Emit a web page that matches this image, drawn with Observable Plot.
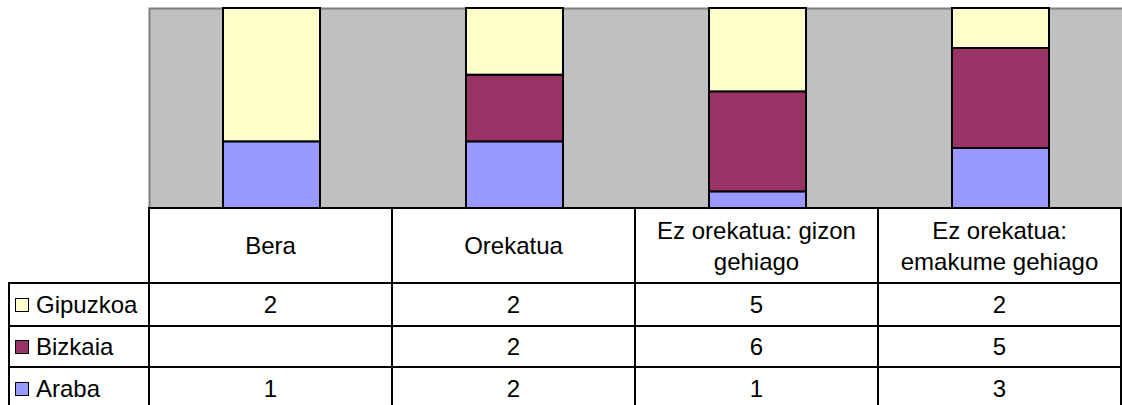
<!DOCTYPE html>
<html>
<head>
<meta charset="utf-8">
<script src="https://cdn.jsdelivr.net/npm/d3@7"></script>
<script src="https://cdn.jsdelivr.net/npm/@observablehq/plot@0.6"></script>
<style>
html, body { margin: 0; padding: 0; background: #fff; }
#wrap { position: relative; width: 1122px; height: 405px; overflow: hidden;
  font-family: "Liberation Sans", Arial, sans-serif; color: #000; }
#chart { position: absolute; left: 0; top: 0; width: 1124px; }
.cell { position: absolute; box-sizing: border-box; border: 2px solid #000;
  display: flex; align-items: center; justify-content: center; text-align: center;
  font-size: 24px; line-height: 31px; background: #fff; }
.leg { justify-content: flex-start; padding-left: 5px; }
.sw { width: 12px; height: 12px; border: 1px solid #000; margin-right: 7px; flex: none; }
</style>
</head>
<body>
<div id="wrap"><div id="chart"></div></div>
<script>
// ---- data ----
const categories = ["Bera", "Orekatua", "Ez orekatua: gizon gehiago", "Ez orekatua: emakume gehiago"];
const categoryLabels = [["Bera"], ["Orekatua"], ["Ez orekatua: gizon", "gehiago"], ["Ez orekatua:", "emakume gehiago"]];
const seriesNames = ["Gipuzkoa", "Bizkaia", "Araba"];   // table order (top to bottom)
const gipuzkoa = [2, 2, 5, 2];
const bizkaia = [null, 2, 6, 5];
const araba = [1, 2, 1, 3];
const seriesValues = {Gipuzkoa: gipuzkoa, Bizkaia: bizkaia, Araba: araba};
const seriesColors = {Gipuzkoa: "#FFFFCC", Bizkaia: "#993366", Araba: "#9999FF"};

// stacking order bottom -> top
const stackOrder = ["Araba", "Bizkaia", "Gipuzkoa"];
const rows = [];
for (const s of stackOrder) {
  categories.forEach((c, i) => {
    const v = seriesValues[s][i];
    if (v != null) rows.push({cat: c, series: s, value: v});
  });
}

const marginLeft = 149, marginTop = 8, plotH = 208;
const chart = Plot.plot({
  width: 1124, height: plotH,
  marginLeft, marginRight: 0, marginTop, marginBottom: 0,
  style: {maxWidth: "none", background: "transparent"},
  x: {domain: categories, paddingInner: 0.6, paddingOuter: 0.3, axis: null},
  y: {axis: null},
  color: {domain: stackOrder, range: stackOrder.map(s => seriesColors[s])},
  marks: [
    Plot.frame({fill: "#C0C0C0", stroke: "#808080", strokeWidth: 2}),
    Plot.barY(rows, Plot.stackY({offset: "normalize", x: "cat", y: "value", fill: "series",
      stroke: "#000", strokeWidth: 2}))
  ]
});
document.getElementById("chart").appendChild(chart);

// ---- data table below the plot ----
const xs = chart.scale("x");
const step = xs.step;
const colLeft = i => marginLeft + i * step;
const rowTops = [plotH, 283, 326, 367, 410];
const wrap = document.getElementById("wrap");
function cell(x0, x1, y0, y1, cls) {
  const d = document.createElement("div");
  d.className = "cell" + (cls ? " " + cls : "");
  d.style.left = (x0 - 1) + "px";
  d.style.top = (y0 - 1) + "px";
  d.style.width = (x1 - x0 + 2) + "px";
  d.style.height = (y1 - y0 + 2) + "px";
  wrap.appendChild(d);
  return d;
}
// header
categories.forEach((c, i) => {
  const d = cell(colLeft(i), colLeft(i + 1), rowTops[0], rowTops[1]);
  d.innerHTML = categoryLabels[i].join("<br>");
});
// series rows
seriesNames.forEach((s, r) => {
  const y0 = rowTops[r + 1], y1 = rowTops[r + 2];
  const lg = cell(9, marginLeft, y0, y1, "leg");
  const sw = document.createElement("span");
  sw.className = "sw";
  sw.style.background = seriesColors[s];
  lg.appendChild(sw);
  lg.appendChild(document.createTextNode(s));
  categories.forEach((c, i) => {
    const v = seriesValues[s][i];
    cell(colLeft(i), colLeft(i + 1), y0, y1).textContent = v == null ? "" : String(v);
  });
});
</script>
</body>
</html>
